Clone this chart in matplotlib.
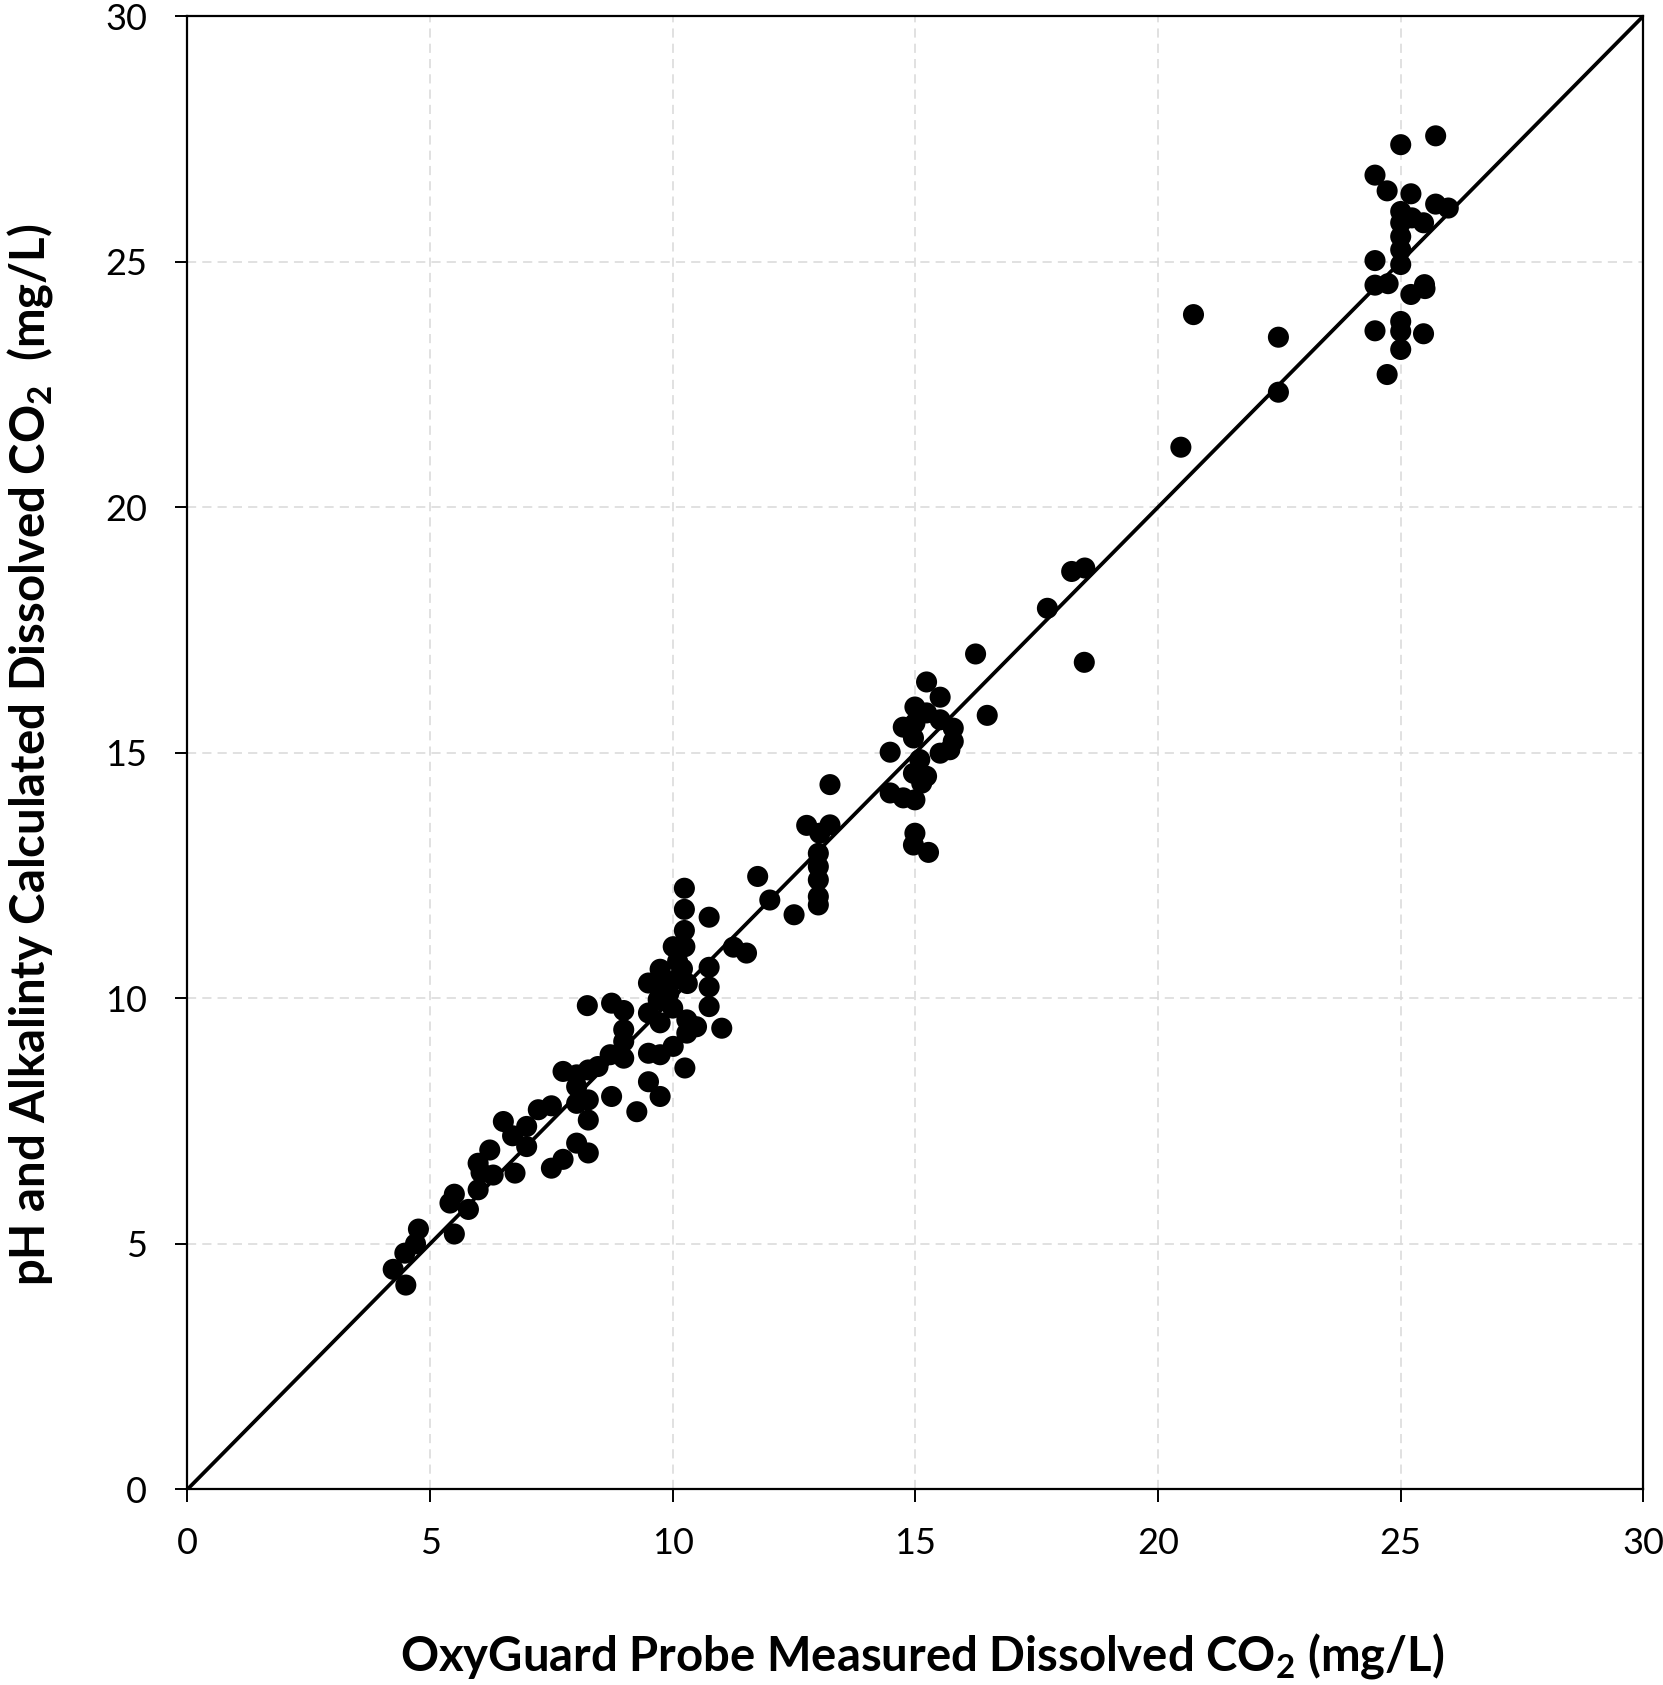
import matplotlib
matplotlib.use("Agg")
import matplotlib.pyplot as plt

plt.rcParams['font.family'] = ['Lato', 'DejaVu Sans']
plt.rcParams['mathtext.default'] = 'regular'

# OxyGuard probe measured CO2 (mg/L)
x_probe = [
    4.24, 4.50, 4.48, 4.70, 4.76,
    5.50, 5.41, 5.50, 5.79,
    5.99, 5.99, 6.05, 6.30, 6.23, 6.51, 6.75, 6.99, 6.99, 6.70,
    7.23, 7.50, 7.50, 7.74, 8.02, 8.26,
    7.74, 8.02, 8.02, 8.26, 8.46, 8.26, 8.02, 8.26, 8.74, 9.26,
    8.24, 8.74, 8.99, 8.99, 8.99, 8.99, 8.71,
    9.50, 9.74, 10.25, 9.50, 9.74, 10.01, 9.50, 9.50, 9.74,
    9.74, 9.70, 9.92, 10.00, 10.29, 10.49, 10.29, 11.01,
    10.24, 10.24, 10.75, 10.24, 10.01, 10.25, 10.10, 10.20, 10.30, 10.10,
    10.75, 10.75, 10.75, 9.80,
    11.25, 11.52, 11.75, 12.00, 12.50,
    12.76, 13.24, 13.03, 13.00, 13.00, 13.00, 13.00, 13.00, 13.24,
    14.48, 14.48, 14.75, 14.99, 14.99, 14.96, 15.27,
    14.75, 14.99, 14.99, 14.96, 15.09, 15.23, 15.13, 14.96,
    15.23, 15.51, 15.23, 15.51, 15.78, 15.78, 15.51, 15.71,
    16.24, 16.48,
    17.72, 18.22, 18.49, 18.48,
    20.47, 20.73, 22.48, 22.48,
    25.00, 25.72, 24.47, 24.72, 25.21, 25.72, 25.98, 25.00, 25.23, 25.47,
    25.00, 25.00, 25.00, 25.00,
    24.47, 24.47, 24.74, 25.21, 25.49, 25.50,
    24.47, 25.00, 25.00, 25.00, 25.47, 24.72,
]

# pH and alkalinity calculated CO2 (mg/L)
y_calc = [
    4.48, 4.16, 4.81, 5.00, 5.30,
    5.20, 5.83, 6.01, 5.70,
    6.10, 6.64, 6.45, 6.40, 6.91, 7.49, 6.44, 7.39, 6.98, 7.20,
    7.73, 7.81, 6.54, 6.72, 7.05, 6.85,
    8.51, 8.44, 8.20, 8.54, 8.61, 7.93, 7.86, 7.52, 8.00, 7.69,
    9.85, 9.90, 9.75, 9.36, 9.12, 8.78, 8.85,
    8.30, 8.00, 8.58, 8.88, 8.85, 9.02, 9.70, 10.31, 9.50,
    10.59, 9.97, 10.10, 9.80, 9.56, 9.42, 9.29, 9.39,
    12.24, 11.81, 11.65, 11.38, 11.05, 11.05, 10.75, 10.60, 10.30, 10.40,
    10.63, 10.23, 9.83, 10.30,
    11.04, 10.92, 12.48, 12.00, 11.70,
    13.52, 13.53, 13.36, 12.95, 12.68, 12.41, 12.07, 11.90, 14.35,
    15.01, 14.18, 14.08, 14.04, 13.36, 13.12, 12.97,
    15.52, 15.93, 15.60, 15.30, 14.86, 14.52, 14.38, 14.58,
    16.44, 16.13, 15.81, 15.67, 15.50, 15.23, 14.99, 15.06,
    17.01, 15.76,
    17.94, 18.69, 18.76, 16.84,
    21.22, 23.92, 23.46, 22.34,
    27.38, 27.56, 26.76, 26.44, 26.38, 26.17, 26.09, 26.02, 25.89, 25.79,
    25.79, 25.51, 25.24, 24.94,
    25.02, 24.52, 24.55, 24.33, 24.53, 24.45,
    23.59, 23.78, 23.58, 23.21, 23.53, 22.70,
]

axis_limits = [0, 30]
tick_values = [0, 5, 10, 15, 20, 25, 30]

fig = plt.figure(figsize=(16.63, 16.85), dpi=100)
ax = fig.add_axes([0.1127, 0.1161, 0.8755, 0.8744])

ax.set_xlim(axis_limits)
ax.set_ylim(axis_limits)
ax.set_xticks(tick_values)
ax.set_yticks(tick_values)

ax.grid(True, color='#d9d9d9', linewidth=1.1, linestyle=(0, (6, 4)), zorder=0)
ax.set_axisbelow(True)

ax.axline((0, 0), slope=1, color='black', linewidth=2.7, zorder=2)
ax.scatter(x_probe, y_calc, s=230, color='black', edgecolors='none', zorder=3)

for sp in ax.spines.values():
    sp.set_linewidth(1.6)
    sp.set_color('black')

ax.tick_params(axis='both', direction='out', length=9, width=1.4,
               labelsize=26, pad=18, colors='black')
ax.tick_params(axis='y', pad=20)

ax.set_xlabel('OxyGuard Probe Measured Dissolved CO$_2$ (mg/L)',
              fontsize=34, fontweight='bold', va='baseline')
ax.xaxis.set_label_coords(0.505, -0.1226)
ax.set_ylabel('pH and Alkalinty Calculated Dissolved CO$_2$  (mg/L)',
              fontsize=34, fontweight='bold', va='center', ha='center')
ax.yaxis.set_label_coords(-0.108, 0.4985)

fig.savefig('out.png', dpi=100)
